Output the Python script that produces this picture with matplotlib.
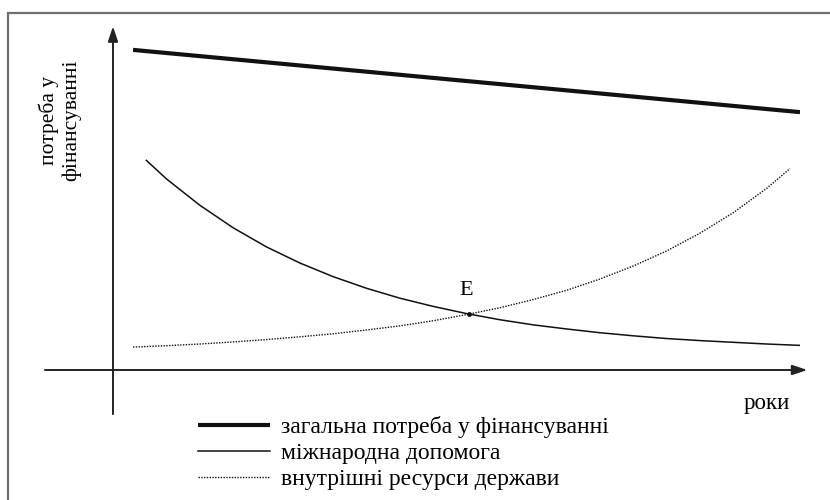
import matplotlib
matplotlib.use('Agg')
from matplotlib import pyplot as plt
from matplotlib.patches import Rectangle

plt.rcParams['font.family'] = ['Liberation Serif', 'DejaVu Serif']

# schematic values (x = years, y = need in financing)
total_x = [0, 10]
total_y = [93.6, 75.4]

aid_x = [0.2, 0.5, 1, 1.5, 2, 2.5, 3, 3.5, 4, 4.5, 5, 5.5, 6, 6.5, 7, 7.5, 8, 8.5, 9, 9.5, 10]
aid_y = [61.3, 55.9, 48.2, 41.6, 36.0, 31.3, 27.3, 23.9, 21.0, 18.6, 16.5, 14.7, 13.2,
         12.0, 10.9, 10.0, 9.2, 8.6, 8.1, 7.6, 7.2]

own_x = [0, 0.5, 1, 1.5, 2, 2.5, 3, 3.5, 4, 4.5, 5, 5.5, 6, 6.5, 7, 7.5, 8, 8.5, 9, 9.5, 9.85]
own_y = [6.7, 7.1, 7.6, 8.2, 8.9, 9.7, 10.6, 11.7, 12.9, 14.4, 16.2, 18.2, 20.6, 23.3,
         26.6, 30.4, 34.8, 40.0, 46.0, 53.1, 58.9]

labels = ['загальна потреба у фінансуванні', 'міжнародна допомога', 'внутрішні ресурси держави']
point_x, point_y = 5.04, 16.4

fig = plt.figure(figsize=(8.3, 5), dpi=100)
fig.patches.append(Rectangle((8 / 830, -0.1), 1.1, (500 - 13) / 500 + 0.1,
                             transform=fig.transFigure, fill=False,
                             edgecolor='#6e6e6e', lw=1.6))

ax = fig.add_axes([133 / 830, 130 / 500, 667 / 830, 342 / 500])
ax.set_xlim(0, 10)
ax.set_ylim(0, 100)
ax.axis('off')

ax.plot(total_x, total_y, color='#111111', lw=3.0, label=labels[0], solid_capstyle='butt')
ax.plot(aid_x, aid_y, color='#111111', lw=1.1, label=labels[1])
ax.plot(own_x, own_y, color='#111111', lw=1.0, linestyle=(0, (1, 1)), label=labels[2])
ax.plot([point_x], [point_y], 'o', color='#111111', ms=2.5)
ax.text(point_x - 0.04, point_y + 4.0, 'E', fontsize=16, ha='center', va='bottom')

# axes arrows
arrow = dict(arrowstyle='-|>,head_length=0.9,head_width=0.3', color='#222222', lw=1.4,
             shrinkA=0, shrinkB=0)
ax.annotate('', xy=(10.11, 0), xytext=(-1.32, 0), arrowprops=arrow, annotation_clip=False)
ax.annotate('', xy=(-0.3, 100.5), xytext=(-0.3, -12.9), arrowprops=arrow, annotation_clip=False)

ax.text(9.5, -9.7, 'роки', fontsize=16.5, ha='center', va='center')
ax.text(-1.1, 73, 'потреба у\nфінансуванні', fontsize=15.5, rotation=90,
        ha='center', va='center', linespacing=1.2)

ax.legend(loc='upper left', bbox_to_anchor=(198 / 830, 1 - 416 / 500),
          bbox_transform=fig.transFigure, frameon=False, fontsize=17,
          handlelength=3.05, handletextpad=0.45, labelspacing=0.19,
          borderaxespad=0, borderpad=0)

plt.savefig('out.png', dpi=100)
plt.close()
